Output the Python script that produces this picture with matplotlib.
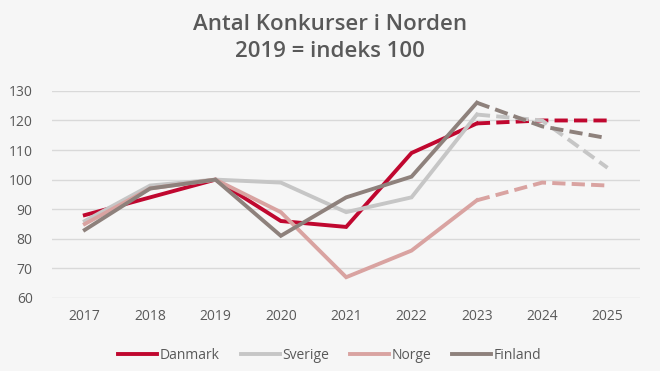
import numpy as np
import matplotlib.pyplot as plt

# Data (index, 2019 = 100)
years = ['2017', '2018', '2019', '2020', '2021', '2022', '2023', '2024', '2025']
danmark = [88, 94, 100, 86, 84, 109, 119, 120, 120]
sverige = [86, 98, 100, 99, 89, 94, 122, 120, 104]
norge = [85, 97, 100, 89, 67, 76, 93, 99, 98]
finland = [83, 97, 100, 81, 94, 101, 126, 118, 114]

names = ['Danmark', 'Sverige', 'Norge', 'Finland']
colors = ['#C0072F', '#C6C6C6', '#D9A3A1', '#8E817C']
series = [danmark, sverige, norge, finland]

# index where the forecast (dashed) part starts
split = 6

plt.rcParams['font.family'] = ['Open Sans', 'DejaVu Sans']

bg = '#F6F6F6'
fig = plt.figure(figsize=(6.6, 3.71), dpi=100, facecolor=bg)
ax = fig.add_axes([0.079, 0.197, 0.891, 0.558], facecolor=bg)

x = np.arange(len(years))
lines = []
for name, col, vals in zip(names, colors, series):
    vals = np.array(vals, dtype=float)
    ln, = ax.plot(x[:split + 1], vals[:split + 1], color=col, lw=2.8,
                  solid_joinstyle='miter', label=name, zorder=3)
    ax.plot(x[split:], vals[split:], color=col, lw=2.8, ls=(0, (3.4, 1.6)),
            dash_capstyle='butt', zorder=3)
    lines.append(ln)

ax.set_xlim(-0.5, len(years) - 0.5)
ax.set_ylim(60, 130)
ax.set_yticks(np.arange(60, 131, 10))
ax.set_xticks(x)
ax.set_xticklabels(years)
ax.grid(axis='y', color='#D9D9D9', lw=1.0, zorder=0)
for s in ax.spines.values():
    s.set_visible(False)
ax.tick_params(length=0, labelsize=10, colors='#595959', pad=8)
ax.tick_params(axis='y', pad=14)

fig.suptitle('Antal Konkurser i Norden\n2019 = indeks 100', y=0.962,
             fontsize=16, fontweight='semibold', color='#595959',
             linespacing=1.4)

fig.legend(handles=lines, loc='center', bbox_to_anchor=(0.5, 0.043), ncol=4,
           frameon=False, fontsize=10, handlelength=2.8, handletextpad=0.2,
           columnspacing=1.5, labelcolor='#595959')

fig.savefig('out.png', dpi=100, facecolor=bg)
